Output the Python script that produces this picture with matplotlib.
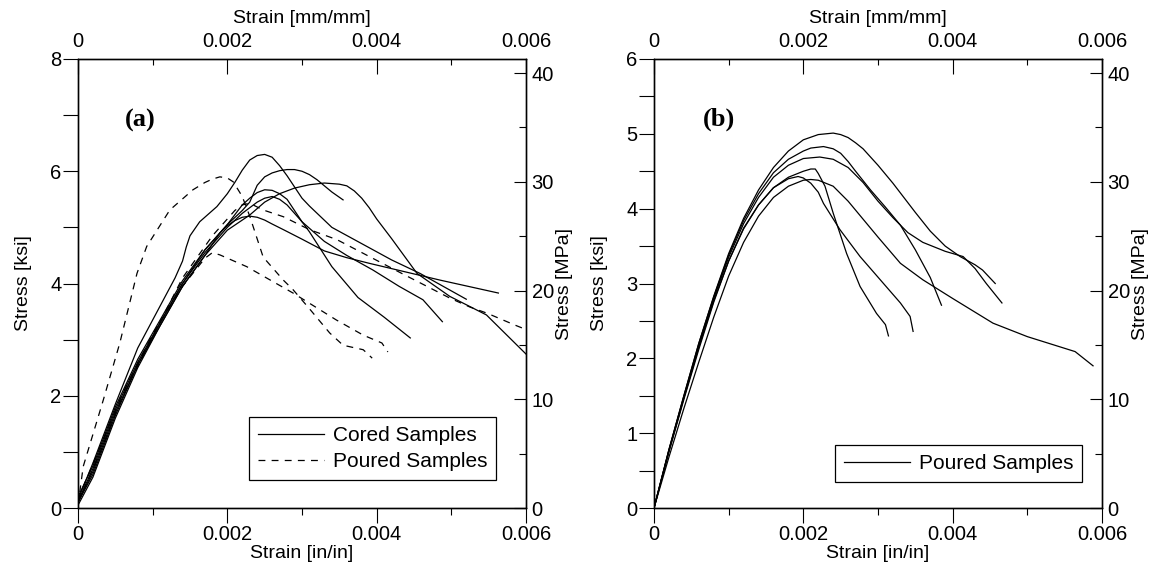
import matplotlib
matplotlib.use("Agg")
import matplotlib.pyplot as plt
from matplotlib.ticker import MultipleLocator, FuncFormatter

plt.rcParams["font.family"] = ["Liberation Sans", "DejaVu Sans"]
plt.rcParams["font.size"] = 14

# ---- panel (a): cored samples (solid), strain [in/in], stress [ksi]
cored_1 = [(0, 0.15), (0.0002, 0.8), (0.0005, 1.85), (0.0008, 2.85), (0.0011, 3.6), (0.0013, 4.1),
           (0.0014, 4.4), (0.00145, 4.65), (0.0015, 4.85), (0.00163, 5.1), (0.00186, 5.37),
           (0.002, 5.6), (0.0021, 5.8), (0.0022, 6.02), (0.0023, 6.2), (0.0024, 6.28),
           (0.0025, 6.3), (0.0026, 6.25), (0.0027, 6.1), (0.0028, 5.92), (0.0029, 5.72),
           (0.003, 5.52), (0.0031, 5.38), (0.0034, 5.0), (0.0042, 4.42), (0.00458, 4.18),
           (0.0052, 3.72)]
cored_2 = [(0, 0.1), (0.0002, 0.65), (0.0005, 1.7), (0.0008, 2.55), (0.0011, 3.3), (0.0014, 4.0),
           (0.0017, 4.6), (0.002, 5.05), (0.0022, 5.3), (0.0023, 5.45), (0.00235, 5.6),
           (0.0024, 5.75), (0.0025, 5.9), (0.0026, 5.97), (0.0027, 6.01), (0.0028, 6.03),
           (0.0029, 6.03), (0.003, 6.0), (0.0031, 5.94), (0.0032, 5.85), (0.0033, 5.74),
           (0.0034, 5.63), (0.00355, 5.49)]
cored_3 = [(0, 0.05), (0.0002, 0.55), (0.0005, 1.6), (0.0008, 2.5), (0.0011, 3.25), (0.0014, 3.95),
           (0.0017, 4.5), (0.002, 4.95), (0.0023, 5.22), (0.0025, 5.45), (0.0027, 5.6),
           (0.0029, 5.7), (0.0031, 5.76), (0.0033, 5.79), (0.0035, 5.77), (0.0036, 5.74),
           (0.0037, 5.65), (0.0038, 5.52), (0.0039, 5.35), (0.004, 5.15), (0.0042, 4.8),
           (0.00454, 4.18), (0.00498, 3.77), (0.00547, 3.44), (0.00601, 2.73)]
cored_4 = [(0, 0.2), (0.0002, 0.75), (0.0005, 1.8), (0.0008, 2.65), (0.0011, 3.35), (0.0014, 4.05),
           (0.0017, 4.6), (0.002, 5.05), (0.0022, 5.4), (0.0023, 5.52), (0.0024, 5.62),
           (0.0025, 5.67), (0.0026, 5.66), (0.0027, 5.6), (0.0028, 5.5), (0.0029, 5.3),
           (0.003, 5.1), (0.0031, 4.92), (0.0034, 4.3), (0.00375, 3.75), (0.0041, 3.4),
           (0.00445, 3.03)]
cored_5 = [(0, 0.1), (0.0002, 0.6), (0.0005, 1.65), (0.0008, 2.55), (0.0011, 3.25), (0.0014, 3.95),
           (0.0017, 4.5), (0.0019, 4.9), (0.002, 5.03), (0.0021, 5.12), (0.0022, 5.18),
           (0.0023, 5.2), (0.0024, 5.18), (0.0025, 5.13), (0.0026, 5.06), (0.00275, 4.96),
           (0.003, 4.79), (0.0033, 4.58), (0.0036, 4.46), (0.0039, 4.36), (0.00485, 4.06),
           (0.00563, 3.83)]
cored_6 = [(0, 0.12), (0.0002, 0.7), (0.0005, 1.75), (0.0008, 2.6), (0.0011, 3.3), (0.0014, 4.0),
           (0.0017, 4.55), (0.002, 5.0), (0.0022, 5.25), (0.0023, 5.35), (0.0024, 5.45),
           (0.0025, 5.52), (0.0026, 5.55), (0.0027, 5.5), (0.0028, 5.4), (0.0029, 5.25),
           (0.003, 5.1), (0.0033, 4.75), (0.0036, 4.5), (0.00395, 4.24), (0.0043, 3.95),
           (0.00462, 3.71), (0.00488, 3.32)]

# ---- panel (a): poured samples (dashed)
poured_1 = [(0, 0.05), (0.00007, 0.74), (0.00034, 1.93), (0.00056, 2.94), (0.00079, 4.18),
            (0.00092, 4.66), (0.00123, 5.31), (0.00154, 5.67), (0.0017, 5.8), (0.0018, 5.86),
            (0.0019, 5.9), (0.002, 5.88), (0.00208, 5.81), (0.0022, 5.55), (0.0023, 5.2),
            (0.00248, 4.47), (0.00275, 4.06), (0.00288, 3.89), (0.0031, 3.55), (0.00337, 3.12),
            (0.00355, 2.9), (0.00382, 2.82), (0.00394, 2.67)]
poured_2 = [(0, 0.15), (0.0003, 1.1), (0.0006, 2.05), (0.001, 3.1), (0.0014, 3.95), (0.0017, 4.45),
            (0.0018, 4.55), (0.0019, 4.51), (0.00226, 4.3), (0.00288, 3.83), (0.00346, 3.35),
            (0.00382, 3.08), (0.00407, 2.94), (0.00415, 2.78)]
poured_3 = [(0, 0.1), (0.0003, 1.0), (0.0006, 2.0), (0.001, 3.05), (0.0014, 4.1), (0.0018, 4.85),
            (0.0021, 5.3), (0.0022, 5.4), (0.0023, 5.43), (0.00248, 5.31), (0.00275, 5.19),
            (0.0031, 4.96), (0.00347, 4.78), (0.00435, 4.17), (0.00498, 3.74), (0.00525, 3.58),
            (0.00548, 3.47), (0.00585, 3.26), (0.006, 3.18)]

# ---- panel (b): poured samples (solid)
b_1 = [(0, 0), (0.0002, 0.78), (0.0004, 1.5), (0.0006, 2.2), (0.0008, 2.83), (0.001, 3.4),
       (0.0012, 3.87), (0.0014, 4.25), (0.0016, 4.55), (0.0018, 4.77), (0.002, 4.92),
       (0.0022, 4.99), (0.0024, 5.01), (0.0025, 4.99), (0.0026, 4.95), (0.0027, 4.88),
       (0.0028, 4.8), (0.003, 4.58), (0.0032, 4.34), (0.0035, 3.95), (0.0037, 3.7),
       (0.0039, 3.5), (0.0041, 3.36), (0.0043, 3.25), (0.0044, 3.18), (0.00457, 3.0)]
b_2 = [(0, 0), (0.0002, 0.78), (0.0004, 1.5), (0.0006, 2.2), (0.0008, 2.82), (0.001, 3.38),
       (0.0012, 3.84), (0.0014, 4.2), (0.0016, 4.48), (0.0018, 4.66), (0.002, 4.77),
       (0.0021, 4.81), (0.00227, 4.83), (0.0024, 4.8), (0.0025, 4.74), (0.0026, 4.63),
       (0.0027, 4.5), (0.0029, 4.25), (0.0031, 4.02), (0.0033, 3.78), (0.0035, 3.45),
       (0.0037, 3.08), (0.00385, 2.71)]
b_3 = [(0, 0), (0.0002, 0.77), (0.0004, 1.48), (0.0006, 2.17), (0.0008, 2.8), (0.001, 3.35),
       (0.0012, 3.8), (0.0014, 4.15), (0.0016, 4.42), (0.0018, 4.58), (0.002, 4.67),
       (0.00222, 4.69), (0.0024, 4.66), (0.0026, 4.55), (0.0028, 4.35), (0.003, 4.1),
       (0.0032, 3.88), (0.0034, 3.68), (0.0036, 3.55), (0.0039, 3.43), (0.00414, 3.36),
       (0.0043, 3.2), (0.00445, 3.0), (0.00466, 2.74)]
b_4 = [(0, 0), (0.0002, 0.76), (0.0004, 1.47), (0.0006, 2.15), (0.0008, 2.77), (0.001, 3.3),
       (0.0012, 3.73), (0.0014, 4.05), (0.0016, 4.28), (0.0018, 4.42), (0.002, 4.5),
       (0.0021, 4.53), (0.00216, 4.53), (0.0022, 4.47), (0.00229, 4.3), (0.0024, 3.94),
       (0.00258, 3.4), (0.00276, 2.96), (0.00298, 2.6), (0.0031, 2.45), (0.00314, 2.3)]
b_5 = [(0, 0), (0.0002, 0.75), (0.0004, 1.45), (0.0006, 2.12), (0.0008, 2.75), (0.001, 3.3),
       (0.0012, 3.74), (0.0014, 4.05), (0.0016, 4.28), (0.0018, 4.4), (0.00193, 4.43),
       (0.002, 4.41), (0.0021, 4.34), (0.0022, 4.22), (0.00227, 4.07), (0.00249, 3.72),
       (0.00276, 3.36), (0.00303, 3.05), (0.0033, 2.74), (0.00343, 2.56), (0.00347, 2.36)]
b_6 = [(0, 0), (0.0002, 0.68), (0.0004, 1.33), (0.0006, 1.95), (0.0008, 2.55), (0.001, 3.1),
       (0.0012, 3.55), (0.0014, 3.9), (0.0016, 4.15), (0.0018, 4.3), (0.002, 4.38),
       (0.0021, 4.39), (0.0022, 4.38), (0.0024, 4.3), (0.0026, 4.1), (0.0028, 3.86),
       (0.003, 3.62), (0.0033, 3.27), (0.0036, 3.05), (0.0040, 2.8), (0.00454, 2.47),
       (0.005, 2.29), (0.00564, 2.09), (0.00588, 1.9)]

cored_curves = [cored_1, cored_2, cored_3, cored_4, cored_5, cored_6]
poured_curves_a = [poured_1, poured_2, poured_3]
poured_curves_b = [b_1, b_2, b_3, b_4, b_5, b_6]

mpa_max = 41.3
dash = (0, (5.5, 5.0))


def strain_fmt(v, pos):
    return "0" if abs(v) < 1e-9 else f"{v:.3f}"


def setup(ax, ymax, ymajor, yminor):
    ax.set_xlim(0, 0.006)
    ax.set_ylim(0, ymax)
    ax.xaxis.set_major_locator(MultipleLocator(0.002))
    ax.xaxis.set_minor_locator(MultipleLocator(0.001))
    ax.xaxis.set_major_formatter(FuncFormatter(strain_fmt))
    ax.yaxis.set_major_locator(MultipleLocator(ymajor))
    ax.yaxis.set_minor_locator(MultipleLocator(yminor))
    ax.tick_params(axis="x", which="major", direction="out", length=10.5, width=0.8,
                   pad=1.5, labelsize=14.5)
    ax.tick_params(axis="x", which="minor", direction="out", length=5, width=0.8)
    ax.tick_params(axis="y", which="both", direction="out", length=10.5, width=0.8,
                   pad=1.5, labelsize=14.5)
    ax.set_xlabel("Strain [in/in]", labelpad=1)
    ax.set_ylabel("Stress [ksi]", labelpad=13)

    top = ax.twiny()
    top.set_xlim(0, 0.006)
    top.xaxis.set_major_locator(MultipleLocator(0.002))
    top.xaxis.set_minor_locator(MultipleLocator(0.001))
    top.xaxis.set_major_formatter(FuncFormatter(strain_fmt))
    top.tick_params(axis="x", which="major", direction="in", length=10.5, width=0.8,
                    pad=5.5, labelsize=14.5)
    top.tick_params(axis="x", which="minor", direction="in", length=4, width=0.8)
    top.set_xlabel("Strain [mm/mm]", labelpad=7)

    right = ax.twinx()
    right.set_ylim(0, mpa_max)
    right.yaxis.set_major_locator(MultipleLocator(10))
    right.yaxis.set_minor_locator(MultipleLocator(5))
    right.tick_params(axis="y", which="major", direction="in", length=9, width=0.8,
                      pad=4, labelsize=14.5)
    right.tick_params(axis="y", which="minor", direction="in", length=5, width=0.8)
    right.set_ylabel("Stress [MPa]", labelpad=1.5)
    for a in (ax, top, right):
        for s in a.spines.values():
            s.set_linewidth(0.9)


fig = plt.figure(figsize=(11.57, 5.88), dpi=100)
ax_a = fig.add_axes([78 / 1157, 1 - 508 / 588, 448 / 1157, 449 / 588])
ax_b = fig.add_axes([654 / 1157, 1 - 508 / 588, 448 / 1157, 449 / 588])

leg_style = dict(loc="lower right", frameon=True, fancybox=False, edgecolor="black",
                 framealpha=1, handlelength=3.2, borderpad=0.42, labelspacing=0.35,
                 handletextpad=0.4, borderaxespad=0, fontsize=15)

# panel (a)
for i, c in enumerate(cored_curves):
    xs, ys = zip(*c)
    ax_a.plot(xs, ys, color="black", lw=0.9, label="Cored Samples" if i == 0 else None)
for i, c in enumerate(poured_curves_a):
    xs, ys = zip(*c)
    ax_a.plot(xs, ys, color="black", lw=0.9, linestyle=dash,
              label="Poured Samples" if i == 0 else None)
ax_a.text(0.00063, 6.9, "(a)", family="Liberation Serif", fontweight="bold",
          fontsize=19, va="center", ha="left")
leg = ax_a.legend(bbox_to_anchor=(0.933, 0.062), **leg_style)
leg.get_frame().set_linewidth(0.9)
setup(ax_a, 8, 2, 1)

# panel (b)
for i, c in enumerate(poured_curves_b):
    xs, ys = zip(*c)
    ax_b.plot(xs, ys, color="black", lw=0.9, label="Poured Samples" if i == 0 else None)
ax_b.text(0.00066, 5.2, "(b)", family="Liberation Serif", fontweight="bold",
          fontsize=19, va="center", ha="left")
leg = ax_b.legend(bbox_to_anchor=(0.955, 0.058), **leg_style)
leg.get_frame().set_linewidth(0.9)
setup(ax_b, 6, 1, 0.5)

fig.savefig("out.png", dpi=100)
